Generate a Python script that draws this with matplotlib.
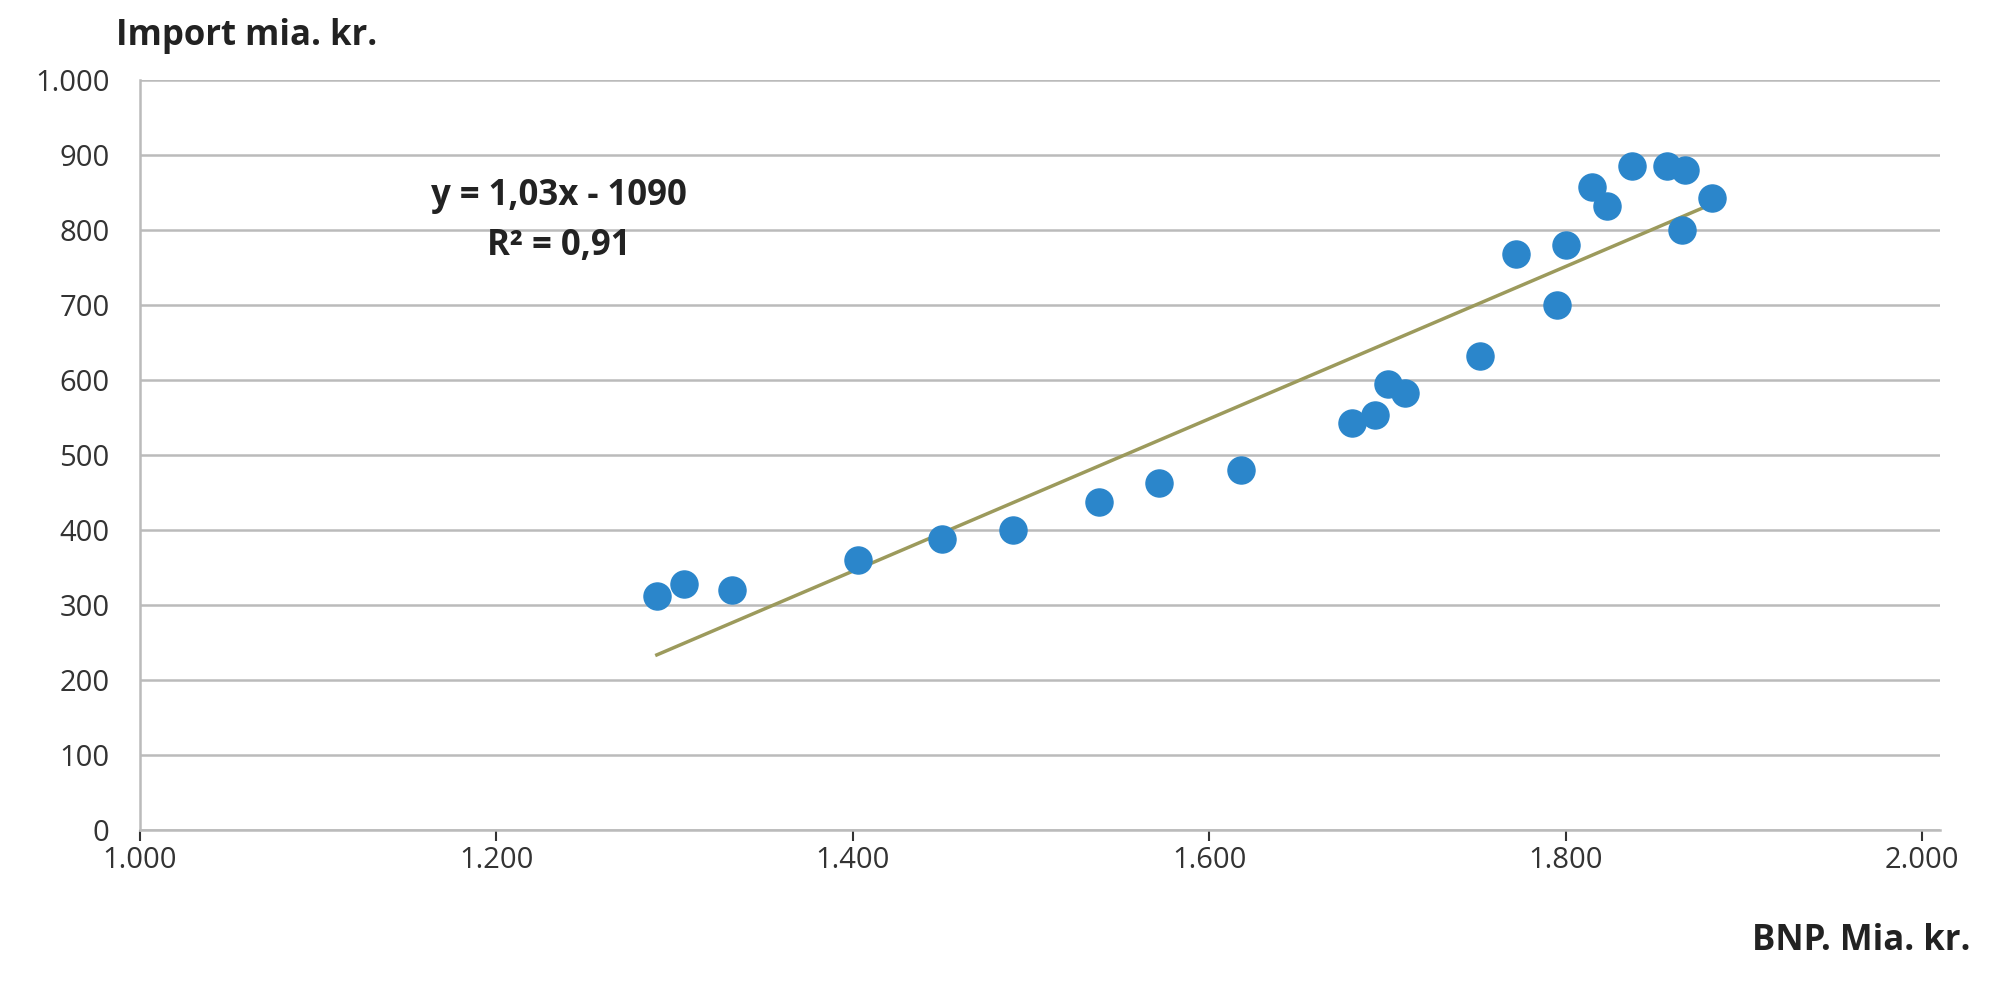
import numpy as np
import matplotlib.pyplot as plt

plt.rcParams['font.family'] = ['Open Sans', 'DejaVu Sans']

# BNP (mia. kr.) and import (mia. kr.)
bnp = [1290, 1305, 1332, 1403, 1450, 1490, 1538, 1572, 1618, 1680, 1693, 1700,
       1710, 1752, 1772, 1795, 1800, 1815, 1823, 1837, 1857, 1867, 1865, 1882]
imp = [312, 328, 320, 360, 388, 400, 437, 463, 480, 543, 553, 595,
       583, 632, 768, 700, 780, 858, 832, 886, 886, 880, 800, 843]
x_ticks = [1000, 1200, 1400, 1600, 1800, 2000]
x_labels = ['1.000', '1.200', '1.400', '1.600', '1.800', '2.000']
y_ticks = list(range(0, 1001, 100))
y_labels = ['0', '100', '200', '300', '400', '500', '600', '700', '800', '900', '1.000']

fig = plt.figure(figsize=(20, 10), dpi=100)
ax = fig.add_axes([0.07, 0.17, 0.9, 0.75])

ax.set_axisbelow(True)
ax.grid(axis='y', color='#bbbbbb', linewidth=1.8)
coef = np.polyfit(bnp, imp, 1)
xs = np.array([min(bnp), max(bnp)])
ax.plot(xs, np.polyval(coef, xs), color='#9c9a5c', linewidth=2.5, zorder=2)
ax.scatter(bnp, imp, s=380, color='#2b86cb', zorder=3)

ax.set_xlim(1000, 2010)
ax.set_ylim(0, 1000)
ax.set_xticks(x_ticks, x_labels)
ax.set_yticks(y_ticks, y_labels)
ax.tick_params(labelsize=21, colors='#333333', length=8, width=1.5)
ax.tick_params(axis='y', length=0, pad=22)
for s in ['top', 'right']:
    ax.spines[s].set_visible(False)
ax.spines['left'].set_color('#bbbbbb')
ax.spines['bottom'].set_color('#bbbbbb')
ax.spines['left'].set_linewidth(1.8)
ax.spines['bottom'].set_linewidth(1.8)

ax.text(1235, 812, 'y = 1,03x - 1090\nR² = 0,91', ha='center', va='center',
        fontsize=25, fontweight='bold', color='#222222', linespacing=1.5)
fig.text(0.058, 0.955, 'Import mia. kr.', fontsize=25, fontweight='bold', color='#222222')
fig.text(0.985, 0.05, 'BNP. Mia. kr.', fontsize=25, fontweight='bold', color='#222222', ha='right')

fig.savefig('out.png')
